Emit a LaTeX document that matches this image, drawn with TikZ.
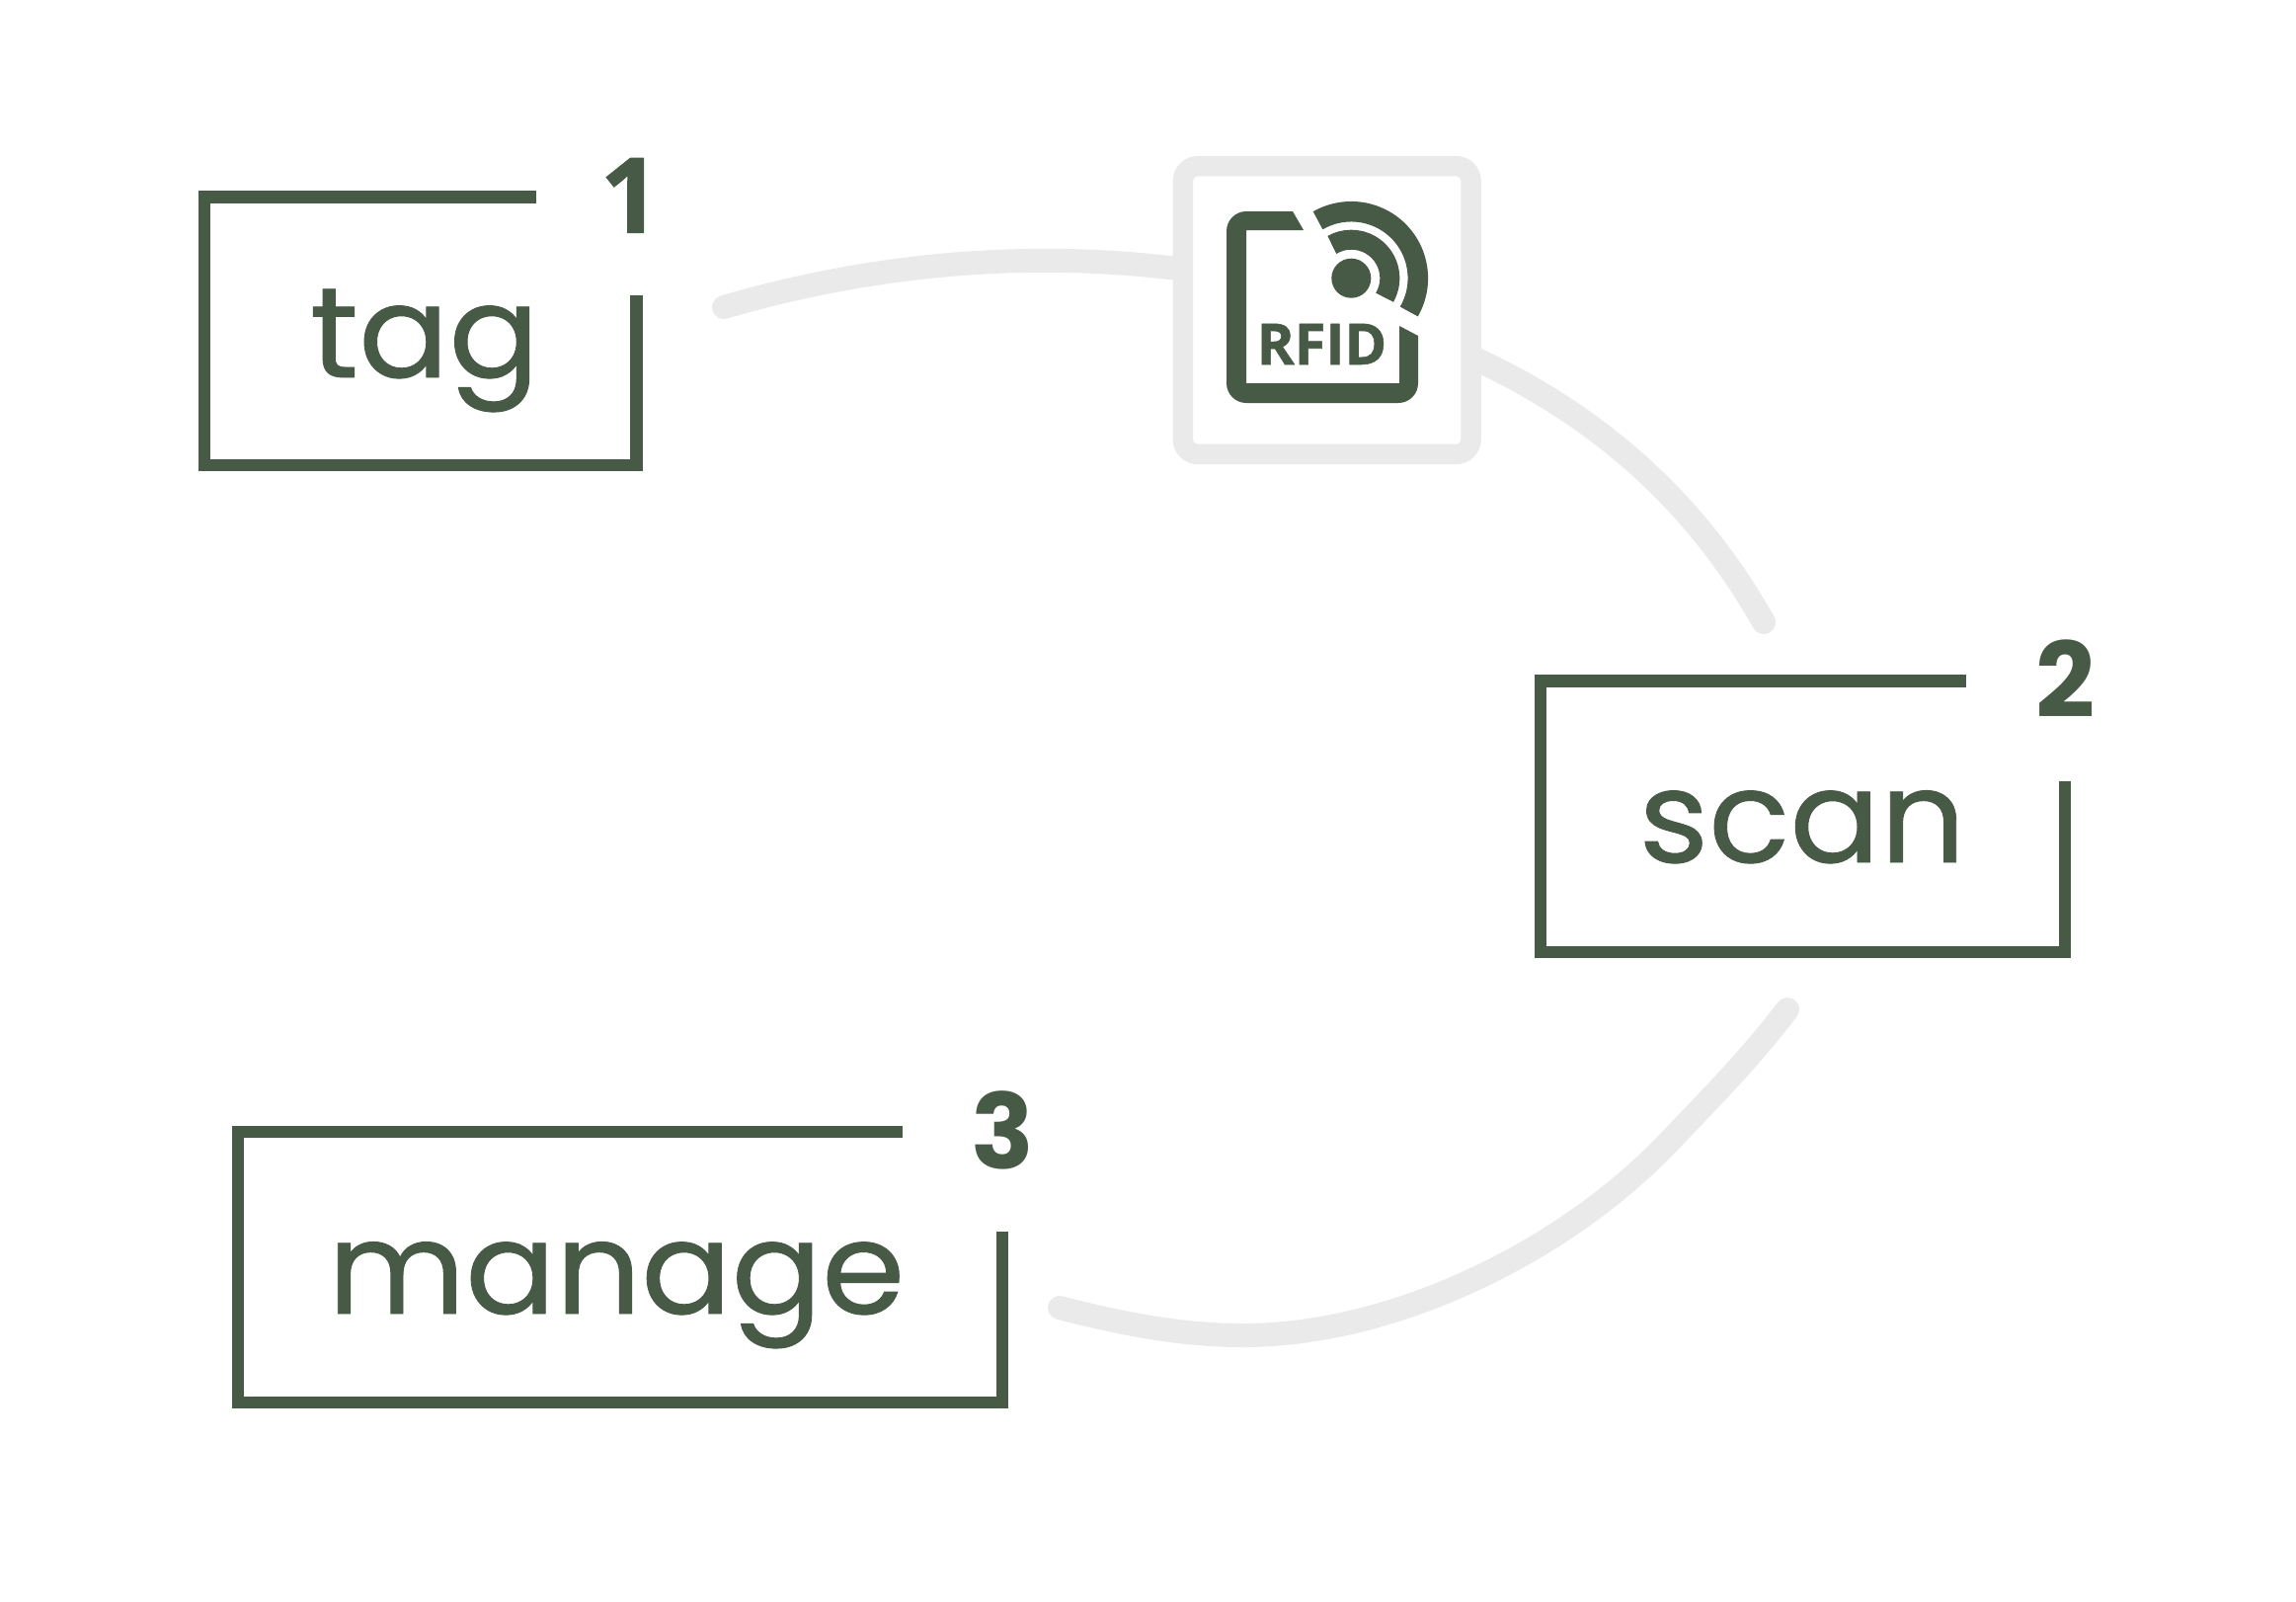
\documentclass[tikz,border=0pt]{standalone}
\usepackage{fontspec}
\setmainfont{Poppins}
\newfontfamily\wordfont{Poppins}[FakeBold=.7,FakeStretch=1.04]
\newfontfamily\iconfont{Open Sans}[BoldFeatures={FakeBold=1}]
\definecolor{ink}{HTML}{475A46}
\definecolor{pale}{HTML}{EAEAEA}
\tikzset{
  bracket/.style={draw=ink,line width=1.28mm},
  link/.style={draw=pale,line width=2.4mm,line cap=round},
  word/.style={text=ink,inner sep=0,anchor=base,font=\wordfont\fontsize{37}{37}\selectfont},
  num/.style={text=ink,inner sep=0,anchor=base,font=\fontsize{30}{30}\selectfont\bfseries},
}
\begin{document}
\begin{tikzpicture}[x=.01cm,y=-.01cm]
\useasboundingbox(0,0)rectangle(2325,1621);
\coordinate(T1)at(543,199.5);
\coordinate(T2)at(207,199.5);
\coordinate(T3)at(207,471);
\coordinate(T4)at(644.5,471);
\coordinate(T5)at(644.5,299);
\coordinate(S1)at(1990.5,689.5);
\coordinate(S2)at(1560,689.5);
\coordinate(S3)at(1560,964);
\coordinate(S4)at(2091,964);
\coordinate(S5)at(2091,790.5);
\coordinate(M1)at(913.5,1146);
\coordinate(M2)at(241,1146);
\coordinate(M3)at(241,1420);
\coordinate(M4)at(1015,1420);
\coordinate(M5)at(1015,1247);
\coordinate(L1)at(733,311);
\coordinate(L2)at(1200,273);
\coordinate(L3)at(1489,361);
\coordinate(L4)at(1786,630);
\coordinate(L5)at(1810,1022);
\coordinate(L6)at(1693,1153);
\coordinate(L7)at(1259,1352);
\coordinate(L8)at(1073,1324);
\coordinate(Dot)at(1368.3,281.7);
% links
\draw[link](L1)..controls(880,268)and(1040,252)..(L2);
\draw[link](L3)..controls(1600,412)and(1708,492)..(L4);
\draw[link](L5)..controls(1770,1074)and(1733,1111)..(L6)
  ..controls(1585,1268)and(1410,1352)..(L7)
  ..controls(1195,1352)and(1135,1340)..(L8);
% brackets
\draw[bracket](T1)--(T2)--(T3)--(T4)--(T5);
\draw[bracket](S1)--(S2)--(S3)--(S4)--(S5);
\draw[bracket](M1)--(M2)--(M3)--(M4)--(M5);
\node(Tag)[word]at(430,382){tag};
\node(Scan)[word]at(1825,873){scan};
\node(Manage)[word]at(624,1330){manage};
\node(N1)[num,font=\iconfont\fontsize{30}{30}\selectfont\bfseries]at(638,235.5){1};
\node(N2)[num]at(2092,726.7){2};
\node(N3)[num]at(1015,1183){3};
% reader
\node(Reader)[draw=pale,fill=white,line width=2.05mm,rounded corners=1.5mm,minimum size=2.915cm]at(1343.7,314){};
\fill[ink](1309,214)--(1320,233)--(1262,233)--(1262,388)--(1417,388)--(1417,330)--(1436,340)
  [rounded corners=2mm]--(1436,408)--(1242,408)--(1242,214)[sharp corners]--cycle;
\fill[ink](Dot)circle[radius=20];
\draw[ink,line width=2mm](Dot)++(30:39)arc[start angle=30,end angle=-120,radius=39];
\draw[ink,line width=2.05mm](Dot)++(30:67.5)arc[start angle=30,end angle=-120,radius=67.5];
\node(Rfid)[text=ink,inner sep=0,anchor=base,font=\iconfont\fontsize{16.4}{16.4}\selectfont\bfseries]at(1338.5,369){RFID};
\end{tikzpicture}
\end{document}
